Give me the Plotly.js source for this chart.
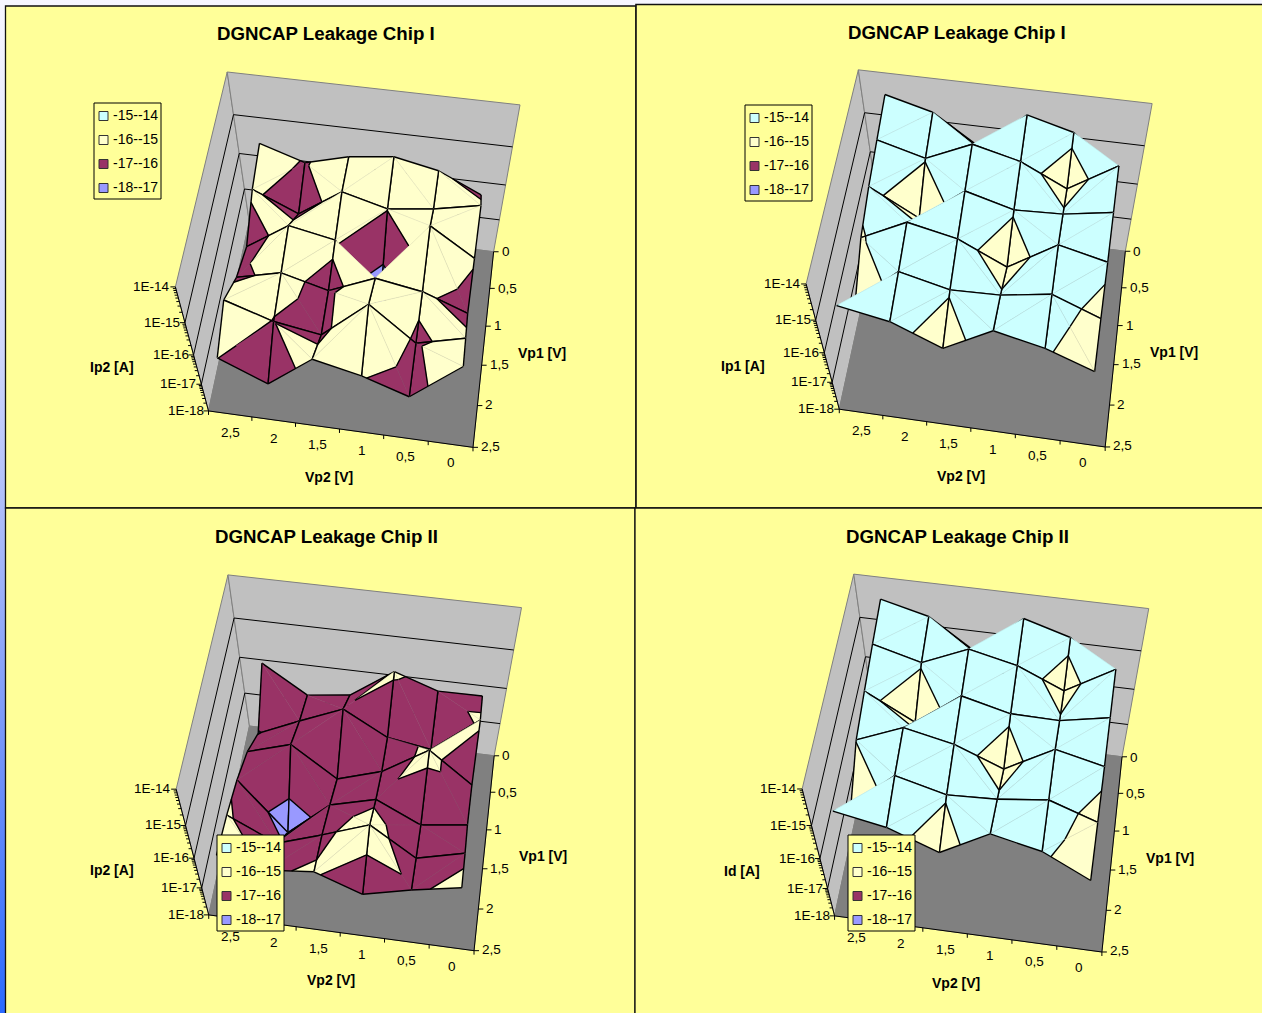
<!DOCTYPE html>
<html>
<head>
<meta charset="utf-8">
<title>DGNCAP Leakage</title>
<script src="https://cdn.plot.ly/plotly-3.0.0.min.js"></script>
<style>
html,body{margin:0;padding:0;width:1262px;height:1013px;overflow:hidden;
  background:linear-gradient(to bottom,#f6f6ff 0px,#cfd6fb 350px,#a5b7fa 550px,#6d8ffa 780px,#2a6aff 1013px);}
#plot{width:1262px;height:1013px;}
</style>
</head>
<body>
<div id="plot"></div>
<script>
// log10 of the leakage current; rows run over Vp1, columns over Vp2
const vp1Labels = ['0', '0,5', '1', '1,5', '2', '2,5'];
const vp2Labels = ['2,5', '2', '1,5', '1', '0,5', '0'];
const decadeLabels = ['1E-18', '1E-17', '1E-16', '1E-15', '1E-14'];
const bandLabels = ['-15--14', '-16--15', '-17--16', '-18--17'];
const bandColors = ['#CCFFFF', '#FFFFCC', '#993366', '#9999FF'];

const ip2ChipI = [
  [-15.66, -16.04, -15.74, -15.60, -15.83, -16.35],
  [-15.88, -16.42, -15.65, -15.97, -15.82, -15.57],
  [-16.41, -15.64, -15.89, -17.90, -15.17, -15.92],
  [-16.13, -15.82, -16.18, -15.63, -15.85, -16.33],
  [-15.55, -16.02, -16.25, -15.12, -16.12, -15.76],
  [-15.99, -16.66, -15.62, -15.95, -16.44, -15.22]
];
const ip1ChipI = [
  [-14.50, -14.79, -15.53, -14.59, -14.88, -15.78],
  [-14.65, -14.97, -14.48, -14.76, -15.31, -14.58],
  [-14.81, -15.49, -14.62, -14.95, -14.90, -14.70],
  [-15.06, -14.49, -14.76, -15.36, -14.58, -14.87],
  [-15.65, -14.63, -14.95, -14.91, -14.70, -15.20],
  [-14.49, -14.75, -15.34, -14.61, -14.92, -15.42]
];
const ip2ChipII = [
  [-16.09, -16.84, -16.69, -15.90, -16.29, -16.28],
  [-17.04, -16.52, -16.03, -16.69, -16.89, -15.88],
  [-16.45, -16.08, -16.95, -16.55, -15.76, -16.62],
  [-16.11, -17.61, -16.52, -16.17, -16.79, -16.60],
  [-15.91, -16.61, -16.15, -15.65, -16.51, -16.15],
  [-15.80, -16.08, -15.93, -16.47, -16.11, -15.82]
];
const idChipII = [
  [-14.50, -14.78, -15.53, -14.56, -14.88, -15.78],
  [-14.64, -14.95, -14.48, -14.74, -15.23, -14.54],
  [-14.80, -15.46, -14.62, -14.92, -14.94, -14.71],
  [-14.98, -14.50, -14.77, -15.27, -14.57, -14.86],
  [-15.62, -14.60, -14.95, -14.89, -14.73, -15.18],
  [-14.50, -14.77, -15.31, -14.57, -14.88, -15.56]
];

// Where the corners of each plot box land on the page:
// floor front-left, floor front-right, floor back-right, floor back-left,
// top back-left, top back-right, top front-left.
const panels = [
  { title: 'DGNCAP Leakage Chip I', titleAt: [326, 33], zName: 'Ip2 [A]', zNameAt: [112, 367],
    vp1At: [542, 353], vp2At: [329, 477], legendAt: [94, 103], z: ip2ChipI,
    box: [[208.3,411.7],[472.7,447.3],[493.3,251.7],[250,221],[226,72.7],[520.7,105],[176,286]] },
  { title: 'DGNCAP Leakage Chip I', titleAt: [957, 32], zName: 'Ip1 [A]', zNameAt: [743, 366],
    vp1At: [1174, 352], vp2At: [961, 476], legendAt: [745, 105], z: ip1ChipI,
    box: [[839,410],[1105,446.7],[1125,251.7],[881,219.3],[857.3,70.7],[1152.7,103.3],[806.7,283.3]] },
  { title: 'DGNCAP Leakage Chip II', titleAt: [326, 536], zName: 'Ip2 [A]', zNameAt: [112, 870],
    vp1At: [543, 856], vp2At: [331, 980], legendAt: [217, 835], z: ip2ChipII,
    box: [[208.3,915],[474,950.7],[494,755.7],[250,726],[227.3,575],[521.7,607.7],[176.7,789]] },
  { title: 'DGNCAP Leakage Chip II', titleAt: [957, 536], zName: 'Id [A]', zNameAt: [742, 871],
    vp1At: [1170, 858], vp2At: [956, 983], legendAt: [848, 835], z: idChipII,
    box: [[834.3,916.7],[1101.7,951.7],[1121.7,757.3],[876,725],[852.7,575],[1149.3,608.3],[802.7,788.3]] }
];

const FONT = '"Liberation Sans", Arial, sans-serif';
const Z_MIN = -18, Z_MAX = -14;
const traces = [], shapes = [], notes = [];

// Least-squares fit of a 3x4 projective camera through the box corners.
function fitCamera(box) {
  const unit = [[0,1,0],[1,1,0],[1,0,0],[0,0,0],[0,0,1],[1,0,1],[0,1,1]];
  const A = [], b = [];
  unit.forEach((q, i) => {
    const x = box[i][0] / 1000, y = box[i][1] / 1000, [u, v, w] = q;
    A.push([u, v, w, 1, 0, 0, 0, 0, -x*u, -x*v, -x*w]); b.push(x);
    A.push([0, 0, 0, 0, u, v, w, 1, -y*u, -y*v, -y*w]); b.push(y);
  });
  const n = 11, M = [];
  for (let i = 0; i < n; i++) {
    const row = [];
    for (let j = 0; j < n; j++) row.push(A.reduce((s, r) => s + r[i]*r[j], 0));
    row.push(A.reduce((s, r, k) => s + r[i]*b[k], 0));
    M.push(row);
  }
  for (let i = 0; i < n; i++) {
    let p = i;
    for (let k = i; k < n; k++) if (Math.abs(M[k][i]) > Math.abs(M[p][i])) p = k;
    [M[i], M[p]] = [M[p], M[i]];
    for (let k = 0; k < n; k++) if (k !== i) {
      const f = M[k][i] / M[i][i];
      for (let j = i; j <= n; j++) M[k][j] -= f * M[i][j];
    }
  }
  const h = M.map((r, i) => r[n] / r[i]);
  return (u, v, w) => {
    const d = h[8]*u + h[9]*v + h[10]*w + 1;
    return [1000*(h[0]*u + h[1]*v + h[2]*w + h[3])/d, 1000*(h[4]*u + h[5]*v + h[6]*w + h[7])/d];
  };
}

function addPolyline(segments, color, width, dash) {
  const x = [], y = [];
  segments.forEach(seg => { seg.forEach(p => { x.push(p[0]); y.push(p[1]); }); x.push(null); y.push(null); });
  if (!x.length) return;
  traces.push({ type: 'scatter', mode: 'lines', x, y, hoverinfo: 'skip', showlegend: false,
    line: { color, width, dash: dash || 'solid' } });
}
function addFill(poly, color, edge, width) {
  traces.push({ type: 'scatter', mode: 'lines', x: poly.map(p => p[0]).concat(poly[0][0]),
    y: poly.map(p => p[1]).concat(poly[0][1]), fill: 'toself', fillcolor: color,
    hoverinfo: 'skip', showlegend: false, line: { color: edge || color, width: width === undefined ? 0.4 : width } });
}

// Keeps the part of a polygon (points {u,v,z}) between two z levels.
function clipBand(poly, lo, hi) {
  const cut = (pts, level, keepAbove) => {
    const out = [];
    pts.forEach((a, i) => {
      const b = pts[(i + 1) % pts.length];
      const ina = keepAbove ? a.z >= level : a.z <= level;
      const inb = keepAbove ? b.z >= level : b.z <= level;
      if (ina) out.push(a);
      if (ina !== inb) {
        const t = (level - a.z) / (b.z - a.z);
        out.push({ u: a.u + t*(b.u - a.u), v: a.v + t*(b.v - a.v), z: level });
      }
    });
    return out;
  };
  return cut(cut(poly, lo, true), hi, false);
}

// One triangle of the surface: band fills, then contours and mesh edges.
function drawTriangle(cam, tri, diagonalEdge) {
  const pt = p => cam(p.u, p.v, (p.z - Z_MIN) / (Z_MAX - Z_MIN));
  bandColors.forEach((color, i) => {
    const hi = -14 - i, lo = hi - 1;
    const part = clipBand(tri, lo, hi);
    if (part.length >= 3) addFill(part.map(pt), color);
  });
  const black = [];
  tri.forEach((a, i) => {
    if (i === diagonalEdge) return;
    black.push([pt(a), pt(tri[(i + 1) % 3])]);
  });
  [-15, -16, -17].forEach(level => {
    const hits = [];
    tri.forEach((a, i) => {
      const b = tri[(i + 1) % 3];
      if ((a.z - level) * (b.z - level) < 0) {
        const t = (level - a.z) / (b.z - a.z);
        hits.push({ u: a.u + t*(b.u - a.u), v: a.v + t*(b.v - a.v), z: level });
      }
    });
    if (hits.length === 2) black.push(hits.map(pt));
  });
  const a = tri[diagonalEdge], b = tri[(diagonalEdge + 1) % 3];
  addPolyline([[pt(a), pt(b)]], 'rgba(120,120,120,0.2)', 0.5);
  addPolyline(black, '#000000', 1.4);
}

function drawSurface(cam, z) {
  const colOrder = [0, 4, 1, 3, 2];
  const vertex = (r, c) => ({ u: (c + 0.5) / 6, v: r / 5, z: z[r][c] });
  for (let r = 0; r < 5; r++) {
    colOrder.forEach(c => {
      const a = vertex(r, c), b = vertex(r, c + 1), d = vertex(r + 1, c), e = vertex(r + 1, c + 1);
      // each cell folds along the diagonal joining its two higher corners
      if (a.z + e.z >= b.z + d.z) {
        drawTriangle(cam, [a, b, e], 2);
        drawTriangle(cam, [a, e, d], 0);
      } else {
        drawTriangle(cam, [a, b, d], 1);
        drawTriangle(cam, [b, e, d], 2);
      }
    });
  }
}

function drawBox(cam) {
  const wz = z => (z - Z_MIN) / (Z_MAX - Z_MIN);
  addFill([cam(0,1,0), cam(0,0,0), cam(0,0,1), cam(0,1,1)], '#C0C0C0', '#808080', 1);
  addFill([cam(0,0,0), cam(1,0,0), cam(1,0,1), cam(0,0,1)], '#C0C0C0', '#808080', 1);
  addFill([cam(0,1,0), cam(1,1,0), cam(1,0,0), cam(0,0,0)], '#808080', '#808080', 1);
  const grid = [];
  [-15, -16, -17].forEach(level => {
    grid.push([cam(0,1,wz(level)), cam(0,0,wz(level)), cam(1,0,wz(level))]);
  });
  addPolyline(grid, '#000000', 1);
}

function drawAxes(cam) {
  const ticks = [];
  // Vp2: categories sit midway between tick marks on the front floor edge
  for (let i = 0; i <= 6; i++) {
    const p = cam(i / 6, 1, 0);
    ticks.push([p, [p[0], p[1] + 4]]);
  }
  vp2Labels.forEach((label, i) => {
    const p = cam((i + 0.5) / 6, 1, 0);
    notes.push(text(label, p[0], p[1] + 18.5, 13.5, 'center'));
  });
  // Vp1: ticks and labels on the right floor edge
  vp1Labels.forEach((label, i) => {
    const p = cam(1, i / 5, 0);
    ticks.push([p, [p[0] + 5, p[1]]]);
    notes.push(text(label, p[0] + 6, p[1] + 0.2 - i * 0.3, 13.5, 'left'));
  });
  // current: logarithmic ticks along the front-left vertical edge
  for (let d = 0; d <= 4; d++) {
    const major = cam(0, 1, d / 4);
    ticks.push([major, [major[0] - 5, major[1]]]);
    notes.push(text(decadeLabels[d], major[0] - 3, major[1] - 0.5, 13.5, 'right'));
    if (d < 4) for (let k = 2; k <= 9; k++) {
      const minor = cam(0, 1, (d + Math.log10(k)) / 4);
      ticks.push([minor, [minor[0] - 3, minor[1]]]);
    }
  }
  addPolyline(ticks, '#000000', 1);
  const edge = [cam(0,1,0), cam(0,1,1)];
  addPolyline([edge, [cam(0,1,0), cam(1,1,0)], [cam(1,1,0), cam(1,0,0)]], '#000000', 1);
}

function text(str, x, y, size, anchor, bold) {
  return { text: bold ? '<b>' + str + '</b>' : str, x, y, xref: 'x', yref: 'y', showarrow: false,
    xanchor: anchor, yanchor: 'middle', font: { family: FONT, size, color: '#000000' } };
}

function rect(x0, y0, x1, y1, fill, line, width, layer) {
  shapes.push({ type: 'rect', xref: 'x', yref: 'y', x0, y0, x1, y1, fillcolor: fill, layer,
    line: { color: line, width } });
}

function drawLegend(at) {
  rect(at[0], at[1], at[0] + 67, at[1] + 96, '#FFFF99', '#000000', 1, 'above');
  bandLabels.forEach((label, i) => {
    const cy = at[1] + 13 + i * 24;
    rect(at[0] + 5, cy - 4.5, at[0] + 14, cy + 4.5, bandColors[i], '#333333', 1, 'above');
    notes.push(text(label, at[0] + 16.5, cy - 1, 14, 'left'));
  });
}

// Panel backgrounds
rect(5.5, 6, 636, 508, '#FFFF99', '#111111', 1.3, 'below');
rect(636, 4.5, 1263, 508, '#FFFF99', '#111111', 1.6, 'below');
rect(5.5, 508, 635, 1014, '#FFFF99', '#111111', 1.3, 'below');
rect(635, 508, 1263, 1014, '#FFFF99', '#111111', 1.3, 'below');

panels.forEach(panel => {
  const cam = fitCamera(panel.box);
  drawBox(cam);
  drawSurface(cam, panel.z);
  drawAxes(cam);
  drawLegend(panel.legendAt);
  notes.push(text(panel.title, panel.titleAt[0], panel.titleAt[1], 18.7, 'center', true));
  notes.push(text(panel.zName, panel.zNameAt[0], panel.zNameAt[1], 14, 'center', true));
  notes.push(text('Vp1 [V]', panel.vp1At[0], panel.vp1At[1], 14, 'center', true));
  notes.push(text('Vp2 [V]', panel.vp2At[0], panel.vp2At[1], 14, 'center', true));
});

Plotly.newPlot('plot', traces, {
  width: 1262, height: 1013, margin: { l: 0, r: 0, t: 0, b: 0 },
  paper_bgcolor: 'rgba(0,0,0,0)', plot_bgcolor: 'rgba(0,0,0,0)', showlegend: false,
  xaxis: { range: [0, 1262], visible: false, fixedrange: true },
  yaxis: { range: [1013, 0], visible: false, fixedrange: true },
  shapes, annotations: notes
}, { displayModeBar: false, staticPlot: true });
</script>
</body>
</html>
